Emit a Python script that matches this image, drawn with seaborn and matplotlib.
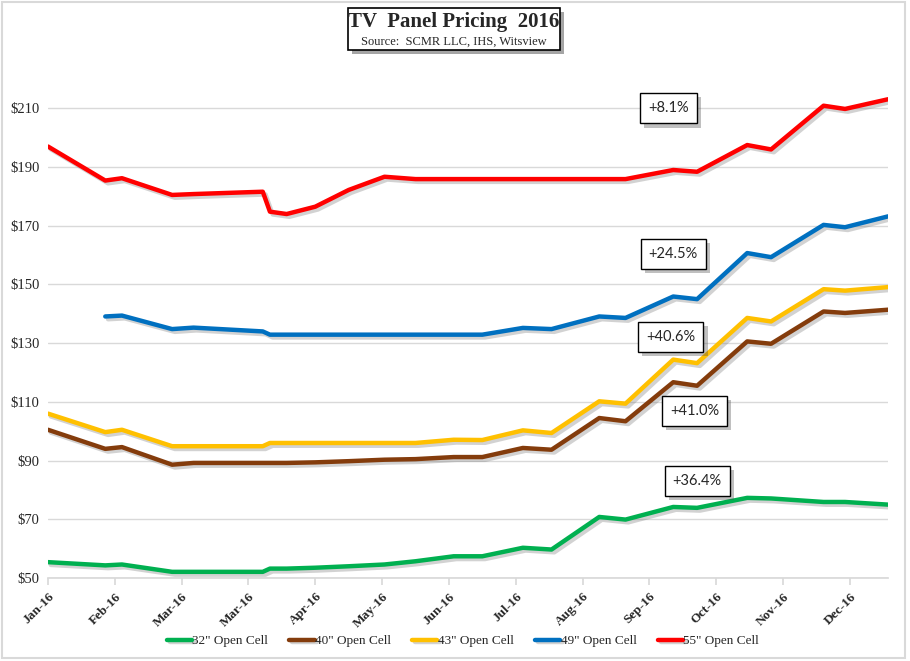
import matplotlib
matplotlib.use('Agg')
import matplotlib.pyplot as plt
import matplotlib.patheffects as pe
from matplotlib.patches import Rectangle
import numpy as np
import pandas as pd
import seaborn as sns

# values ($ per panel)
dates = ['2016-01-06', '2016-01-30', '2016-02-06', '2016-02-27', '2016-03-07', '2016-04-05',
         '2016-04-08', '2016-04-15', '2016-04-27', '2016-05-11', '2016-05-26', '2016-06-08',
         '2016-06-24', '2016-07-06', '2016-07-23', '2016-08-04', '2016-08-24', '2016-09-04',
         '2016-09-24', '2016-10-04', '2016-10-25', '2016-11-04', '2016-11-26', '2016-12-05',
         '2016-12-23']
p32 = [55.4, 54.3, 54.6, 52.1, 52.1, 52.1, 53.2, 53.2, 53.5, 54.0, 54.6, 55.7, 57.4, 57.4,
       60.3, 59.7, 70.8, 69.9, 74.2, 73.9, 77.3, 77.1, 75.9, 75.9, 75.0]
p40 = [100.5, 94.0, 94.6, 88.6, 89.2, 89.2, 89.2, 89.2, 89.4, 89.8, 90.3, 90.5, 91.2, 91.2,
       94.3, 93.7, 104.5, 103.4, 116.7, 115.5, 130.6, 129.8, 140.8, 140.3, 141.4]
p43 = [106.0, 99.7, 100.5, 94.9, 94.9, 94.9, 96.0, 96.0, 96.0, 96.0, 96.0, 96.0, 97.1, 97.0,
       100.3, 99.4, 110.2, 109.4, 124.4, 123.2, 138.6, 137.4, 148.4, 147.9, 149.1]
p49 = [np.nan, 139.1, 139.4, 134.8, 135.3, 134.0, 132.9, 132.9, 132.9, 132.9, 132.9, 132.9,
       132.9, 132.9, 135.2, 134.8, 139.1, 138.6, 145.9, 145.0, 160.7, 159.3, 170.3, 169.5, 173.2]
p55 = [197.0, 185.4, 186.2, 180.5, 180.8, 181.6, 174.8, 174.0, 176.5, 182.2, 186.7, 185.9,
       185.9, 185.9, 185.9, 185.9, 185.9, 185.9, 189.0, 188.4, 197.5, 196.0, 210.9, 209.8, 213.1]

series_names = ['32" Open Cell', '40" Open Cell', '43" Open Cell', '49" Open Cell', '55" Open Cell']
palette = {'32" Open Cell': '#00b050', '40" Open Cell': '#843c0c', '43" Open Cell': '#ffc000',
           '49" Open Cell': '#0070c0', '55" Open Cell': '#ff0000'}

x_tick_labels = ['Jan-16', 'Feb-16', 'Mar-16', 'Mar-16', 'Apr-16', 'May-16', 'Jun-16',
                 'Jul-16', 'Aug-16', 'Sep-16', 'Oct-16', 'Nov-16', 'Dec-16']
y_ticks = [50, 70, 90, 110, 130, 150, 170, 190, 210]

ann_text = ['+8.1%', '+24.5%', '+40.6%', '+41.0%', '+36.4%']
ann_x = ['2016-09-22', '2016-09-24', '2016-09-23', '2016-10-03', '2016-10-04']
ann_y = [210.0, 160.3, 132.0, 106.9, 83.0]

frames = []
for name, vals in zip(series_names, [p32, p40, p43, p49, p55]):
    frames.append(pd.DataFrame({'date': pd.to_datetime(dates), 'price': vals, 'size': name}))
df = pd.concat(frames).dropna()

sns.set_theme(style='white')
plt.rcParams['font.family'] = ['Liberation Serif', 'DejaVu Serif']

fig = plt.figure(figsize=(9.1, 6.61), dpi=100)
ax = fig.add_axes([48 / 910, 1 - 578 / 661, 840 / 910, (578 - 79) / 661])

sns.lineplot(data=df, x='date', y='price', hue='size', hue_order=series_names,
             palette=palette, estimator=None, linewidth=3.2, ax=ax)

for line in ax.lines:
    line.set_solid_capstyle('round')
    line.set_solid_joinstyle('round')
    line.set_path_effects([pe.SimpleLineShadow(offset=(2, -2), shadow_color='gray', alpha=0.35),
                           pe.Normal()])

ax.set_ylim(50, 220)
ax.set_xlim(pd.Timestamp(dates[0]), pd.Timestamp(dates[-1]))
ax.set_yticks(y_ticks)
ax.set_yticklabels(['$' + str(v) for v in y_ticks], fontsize=10.5)
tick_dates = pd.date_range(dates[0], periods=len(x_tick_labels), freq='28D')
ax.set_xticks(tick_dates)
ax.set_xticklabels(x_tick_labels, rotation=45, ha='right', rotation_mode='anchor',
                   fontsize=9.5, fontweight='bold')
ax.set_xlabel('')
ax.set_ylabel('')
ax.grid(axis='y', color='#d9d9d9', linewidth=1)
ax.grid(axis='x', visible=False)
for s in ['left', 'right', 'top']:
    ax.spines[s].set_visible(False)
ax.spines['bottom'].set_color('#d9d9d9')
ax.tick_params(axis='x', bottom=True, length=5, color='#d9d9d9', pad=4)
ax.tick_params(axis='y', left=False, length=0, pad=6)

for t, xd, yv in zip(ann_text, ann_x, ann_y):
    txt = ax.text(pd.Timestamp(xd), yv, t, ha='center', va='center', fontsize=10.5,
                  family=['Lato', 'DejaVu Sans'],
                  bbox=dict(boxstyle='square,pad=0.55', fc='white', ec='black', lw=1))
    txt.get_bbox_patch().set_path_effects([pe.withSimplePatchShadow(offset=(3, -3), alpha=0.35)])

# legend along the bottom
handles, labels = ax.get_legend_handles_labels()
ax.get_legend().remove()
fig.legend(handles, labels, loc='center', bbox_to_anchor=(463 / 910, 1 - 641 / 661), ncol=5,
           frameon=False, fontsize=9.5, handlelength=1.9, handletextpad=0.05, columnspacing=1.6)

# title box
box = Rectangle((348 / 910, 1 - 50 / 661), 212 / 910, 42 / 661, transform=fig.transFigure,
                fc='white', ec='black', lw=1.2, zorder=5)
box.set_path_effects([pe.withSimplePatchShadow(offset=(3, -3), alpha=0.5)])
fig.patches.append(box)
fig.text(454 / 910, 1 - 22 / 661, 'TV  Panel Pricing  2016', ha='center', va='center',
         fontsize=15, fontweight='bold', zorder=6)
fig.text(454 / 910, 1 - 42 / 661, 'Source:  SCMR LLC, IHS, Witsview', ha='center', va='center',
         fontsize=9, zorder=6)

# outer chart border
fig.patches.append(Rectangle((0.002, 0.004), 0.992, 0.993, transform=fig.transFigure,
                             fill=False, ec='#d9d9d9', lw=1.5))

plt.savefig('out.png', dpi=100)
